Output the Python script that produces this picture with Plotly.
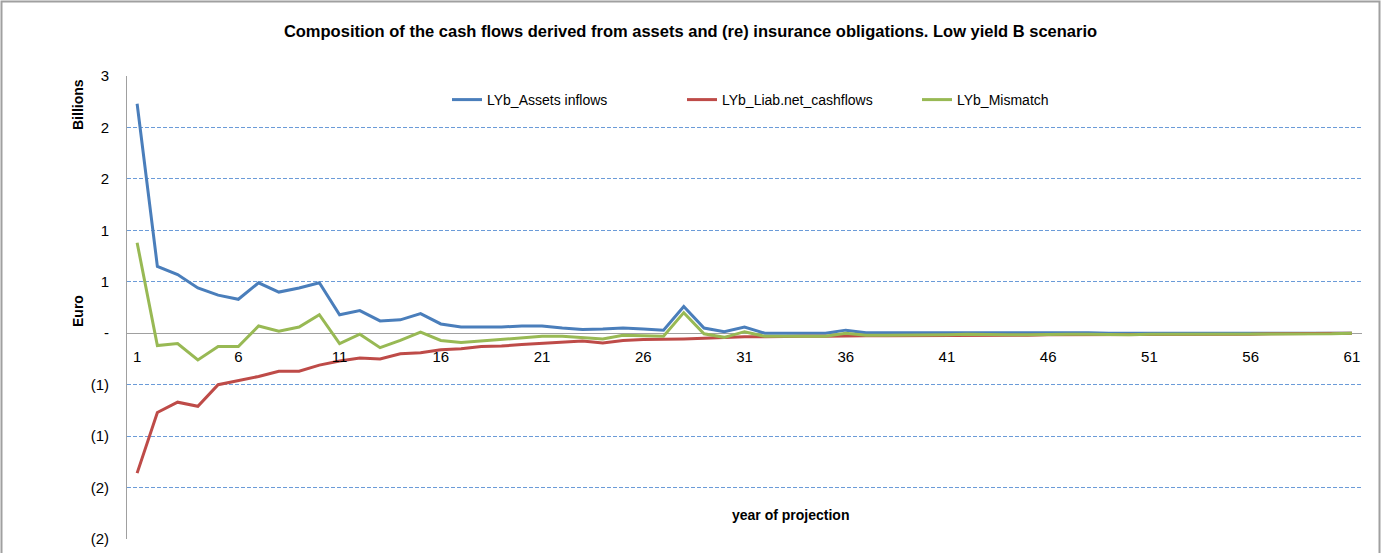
import plotly.graph_objects as go

# years 1..61
years = list(range(1, 62))

assets_inflows = [
    2.23, 0.65, 0.57, 0.44, 0.37, 0.33, 0.49, 0.40, 0.44, 0.49,
    0.18, 0.22, 0.12, 0.13, 0.19, 0.09, 0.06, 0.06, 0.06, 0.07,
    0.07, 0.05, 0.035, 0.04, 0.05, 0.04, 0.03, 0.26, 0.05, 0.015,
    0.06, 0.0, 0.0, 0.0, 0.0, 0.03, 0.005, 0.005, 0.005, 0.005,
    0.005, 0.01, 0.005, 0.005, 0.005, 0.005, 0.005, 0.005, 0.0, 0.0,
    0.0, 0.0, 0.0, 0.0, 0.0, 0.0, 0.0, 0.0, 0.0, 0.0,
    0.0,
]
liab_net_cashflows = [
    -1.36, -0.77, -0.67, -0.71, -0.50, -0.46, -0.42, -0.37, -0.37, -0.31,
    -0.27, -0.24, -0.25, -0.20, -0.19, -0.16, -0.15, -0.13, -0.125, -0.11,
    -0.10, -0.085, -0.075, -0.095, -0.07, -0.06, -0.06, -0.055, -0.05, -0.04,
    -0.035, -0.035, -0.03, -0.03, -0.03, -0.025, -0.025, -0.025, -0.025, -0.02,
    -0.02, -0.02, -0.02, -0.02, -0.02, -0.015, -0.015, -0.015, -0.015, -0.015,
    -0.01, -0.01, -0.01, -0.01, -0.01, -0.01, -0.005, -0.005, -0.005, -0.005,
    0.0,
]
mismatch = [
    0.88, -0.12, -0.10, -0.26, -0.13, -0.13, 0.07, 0.02, 0.06, 0.18,
    -0.10, -0.01, -0.14, -0.07, 0.01, -0.07, -0.09, -0.075, -0.06, -0.04,
    -0.03, -0.03, -0.04, -0.055, -0.02, -0.025, -0.03, 0.20, -0.005, -0.04,
    0.015, -0.03, -0.03, -0.03, -0.03, 0.0, -0.02, -0.02, -0.02, -0.015,
    -0.015, -0.01, -0.015, -0.015, -0.015, -0.01, -0.01, -0.01, -0.015, -0.015,
    -0.01, -0.01, -0.01, -0.005, -0.01, -0.01, -0.005, -0.005, -0.005, -0.005,
    0.0,
]

y_tickvals = [-2, -1.5, -1, -0.5, 0, 0.5, 1, 1.5, 2, 2.5]
y_ticktext = ["(2)", "(2)", "(1)", "(1)", "-", "1", "1", "2", "2", "3"]
x_tickvals = list(range(1, 62, 5))

FONT = "Liberation Sans Narrow, Arial Narrow, Liberation Sans, sans-serif"

fig = go.Figure()
fig.add_trace(go.Scatter(x=years, y=assets_inflows, mode="lines", name="LYb_Assets inflows",
                         line=dict(color="#4A7EBB", width=3)))
fig.add_trace(go.Scatter(x=years, y=liab_net_cashflows, mode="lines", name="LYb_Liab.net_cashflows",
                         line=dict(color="#BE4B48", width=3)))
fig.add_trace(go.Scatter(x=years, y=mismatch, mode="lines", name="LYb_Mismatch",
                         line=dict(color="#98B954", width=3)))

# plot area: x 127..1362, y 76..539 (px)
ml, mr, mt, mb = 127, 19, 76, 14
W, H = 1381, 553
pw, ph = W - ml - mr, H - mt - mb

def px_x(p):
    return (p - ml) / pw

def px_y(p):
    return (H - mb - p) / ph

fig.update_layout(
    width=W, height=H,
    margin=dict(l=ml, r=mr, t=mt, b=mb, autoexpand=False),
    paper_bgcolor="white", plot_bgcolor="white",
    font=dict(family=FONT, size=14, color="black"),
    title=dict(text="<b>Composition of the cash flows derived from assets and (re) insurance obligations. Low yield B scenario</b>",
               x=0.5, xanchor="center", y=1 - 31 / H, yanchor="middle",
               font=dict(size=16.5, family=FONT)),
    showlegend=True,
    legend=dict(orientation="h", x=px_x(447), y=px_y(100), xanchor="left", yanchor="middle",
                entrywidth=190, entrywidthmode="pixels", bgcolor="rgba(0,0,0,0)",
                font=dict(size=14, family=FONT)),
    xaxis=dict(range=[0.5, 61.5], tickmode="array", tickvals=x_tickvals,
               showgrid=False, zeroline=False, showline=False, automargin=False,
               anchor="free", position=px_y(333.2), side="bottom",
               ticks="outside", ticklen=10, tickcolor="rgba(0,0,0,0)",
               tickfont=dict(size=15, family=FONT)),
    yaxis=dict(range=[-2, 2.5], tickmode="array", tickvals=y_tickvals, ticktext=y_ticktext,
               showgrid=True, gridcolor="#6B9BD8", griddash="4px,2px", gridwidth=1,
               zeroline=True, zerolinecolor="#A0A0A0", zerolinewidth=1,
               showline=True, linecolor="#A0A0A0", linewidth=1, automargin=False,
               ticks="outside", ticklen=14, tickcolor="rgba(0,0,0,0)",
               tickfont=dict(size=15, family=FONT)),
    annotations=[
        dict(text="<b>Billions</b>", xref="paper", yref="paper", x=px_x(78), y=px_y(105),
             xanchor="center", yanchor="middle",
             textangle=-90, showarrow=False, font=dict(size=14, family=FONT)),
        dict(text="<b>Euro</b>", xref="paper", yref="paper", x=px_x(78), y=px_y(311),
             xanchor="center", yanchor="middle",
             textangle=-90, showarrow=False, font=dict(size=14, family=FONT)),
        dict(text="<b>year of projection</b>", xref="paper", yref="paper", x=px_x(790), y=px_y(515),
             xanchor="center", yanchor="middle",
             showarrow=False, font=dict(size=14, family=FONT)),
    ],
    shapes=[
        dict(type="rect", xref="paper", yref="paper", x0=px_x(1.5), x1=px_x(1379.5),
             y0=px_y(570), y1=px_y(1.5), line=dict(color="#A0A0A0", width=2), layer="below"),
    ],
)

fig.write_html("out.html", config={"displayModeBar": False},
               post_script="document.body.style.margin='0';")
